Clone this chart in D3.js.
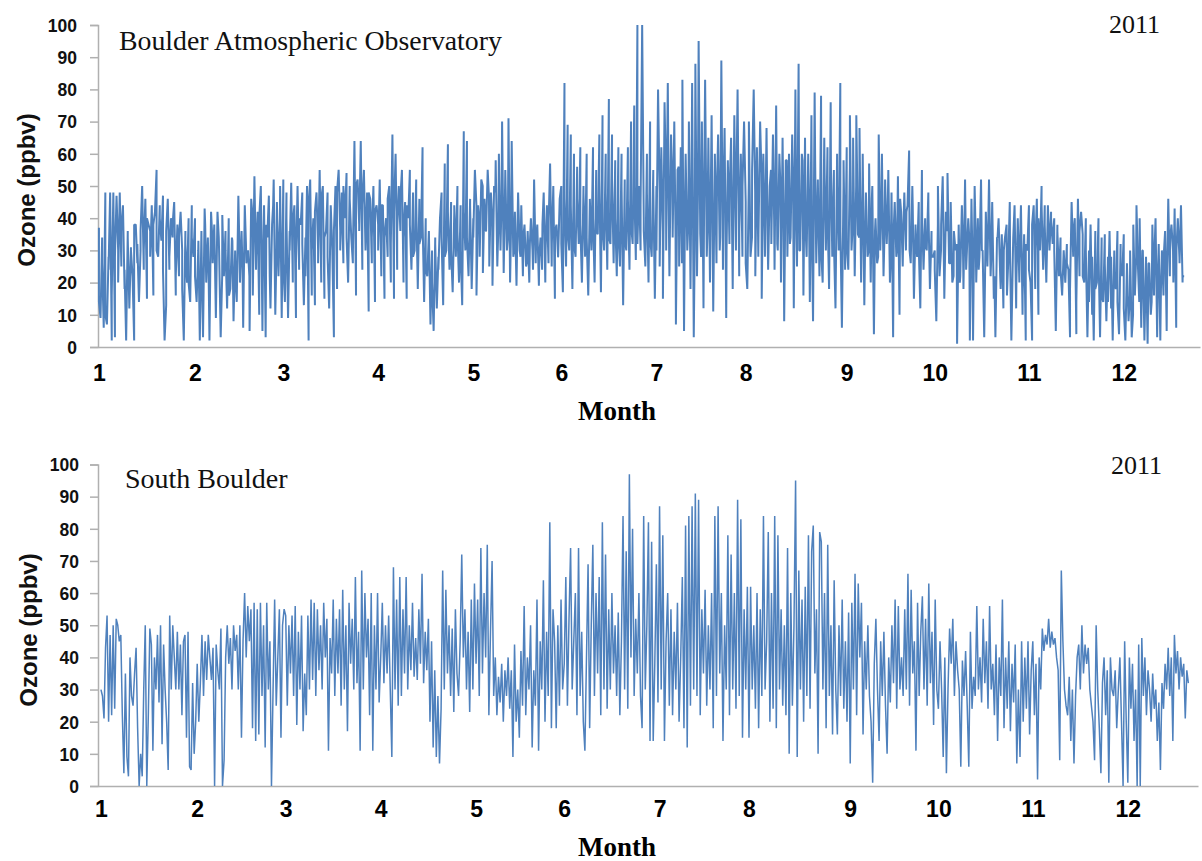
<!DOCTYPE html>
<html>
<head>
<meta charset="utf-8">
<script src="https://cdn.jsdelivr.net/npm/d3@7"></script>
<style>
  body { margin: 0; background: #fff; }
  .ytick text { font-family: "Liberation Sans", sans-serif; font-weight: bold; font-size: 17.5px; fill: #111; }
  .xtick text { font-family: "Liberation Sans", sans-serif; font-weight: bold; font-size: 23px; fill: #000; }
  .axis path, .axis line { stroke: #b0b0b0; stroke-width: 1.5px; }
  .ylab { font-family: "Liberation Sans", sans-serif; font-weight: bold; font-size: 24px; fill: #111; }
  .xlab { font-family: "Liberation Serif", serif; font-weight: bold; font-size: 27px; fill: #000; }
  .note { font-family: "Liberation Serif", serif; font-size: 26px; fill: #111; }
</style>
</head>
<body>
<div id="chart"></div>
<script>
// tick labels
var ozoneTicks = [0, 10, 20, 30, 40, 50, 60, 70, 80, 90, 100];
var monthLabels = [1, 2, 3, 4, 5, 6, 7, 8, 9, 10, 11, 12];
// day of year where each month label sits in the figure, last one is the end of the record
var monthDays = [0.3, 31.3, 59.8, 90.4, 121.1, 149.5, 180.2, 209, 241.6, 270, 300.4, 331, 351];

// Boulder Atmospheric Observatory, ozone
var baoJan = [37,9,34,6,48,7,28,48,2,48,3,47,30,48,25,44,18,2,36,12,31,22,2,38,26,14,30,50,24,46,15,38,36,44,16,42,55,28,44,33,47,2,13,46,24,40,34,45,16,38,22,42,30,2,36,20,40,14,44,28];
var baoFeb = [40,14,30,2,36,3,43,20,34,2,42,26,38,9,42,30,3,41,22,36,12,40,18,34,8,30,14,47,20,36,6,44,26,30,5,46,16,53,24,42,10,50,5,44,3,34,47,12,38,52,10,45,22,50,9];
var baoMar = [52,14,48,9,36,51,20,44,9,50,24,38,48,13,34,50,2,52,16,40,13,48,30,55,20,50,15,36,48,12,44,30,3,50,18,55,36,48,26,40,54,20,50,34,26,64,16,52,38,64,24,55,30,48,11,46,26,50,14,44];
var baoApr = [38,52,22,44,15,40,28,50,20,66,15,60,24,50,36,55,20,45,15,40,55,24,48,30,52,18,46,34,62,14,40,22,36,7,30,5,34,12,28,40,48,13,57,30,63,24,45,17,42,28,50,20,44,13,67,30,64,22,46,18];
var baoMay = [40,55,16,44,28,52,23,46,36,55,25,48,19,50,58,25,60,30,70,23,55,30,71,20,64,28,42,19,48,30,44,22,38,25,36,20,40,30,52,26,38,19,34,24,48,20,44,26,57,25,50,15,38,28,46];
var baoJun = [50,17,82,25,69,30,66,18,60,28,56,32,62,20,50,28,60,16,45,30,62,20,55,35,66,17,72,30,60,24,77,32,66,26,58,22,62,25,60,13,52,30,62,24,70,32,75,27,100,50,30,100,40,25,60,20,70,28,55,15];
var baoJul = [50,80,25,62,15,76,30,82,22,66,34,70,7,55,25,62,83,5,60,30,70,18,82,3,88,22,95,35,70,12,83,28,65,20,72,11,60,26,66,30,89,24,68,9,58,32,65,18,72,30,80,22,60,28,70];
var baoAug = [45,18,70,28,55,80,22,62,35,70,15,60,28,68,24,50,32,66,24,75,30,60,20,65,8,58,28,60,34,66,12,80,25,88,30,60,16,65,28,60,14,72,8,79,26,52,22,78,20,65,30,62,18,76,28,55,12,60,30,82,6,50,24];
var baoSep = [62,24,72,30,65,22,72,35,68,20,60,13,48,28,57,20,50,4,40,26,66,30,60,22,52,32,55,20,48,3,45,28,53,10,42,25,48,30,44,61,26,50,15,38,28,45,12,55,24,40,30,48,18,36,28];
var baoOct = [30,8,50,22,38,53,15,42,54,26,45,20,36,30,1,38,22,44,18,52,28,40,2,46,2,50,20,40,28,52,30,3,42,25,52,22,45,15,3,34,40,22,35,12,34,38,26,45,2,30,44,12,40,20,44,10,35,2,30];
var baoNov = [44,20,2,44,18,46,10,30,50,24,44,20,44,30,42,32,40,5,38,22,34,16,30,20,32,24,3,45,28,40,4,46,22,42,35,20,40,3,30,38,10,2,36,20,40,3,34,14,35,8,28,36,12,2,30,18,36,4,32,22];
var baoDec = [35,2,26,8,30,3,38,16,44,24,40,6,30,2,28,1,26,10,38,16,40,3,32,2,30,16,36,5,46,22,38,30,43,6,40,28,44,20,22];

// extra BAO readings in the dense middle of the trace, merged with the ones above
var baoJanCore = [14,26,10,24,16,28,20,36,24,34,30,38,32,36,30,40,28,38,30,40,24,36,28,38,22,34,18,32,20,34];
var baoFebCore = [22,33,26,38,24,36,18,34,22,30,16,33,20,35,24,32,22,40,28,42,24,38,22,44,30,40];
var baoMarCore = [26,40,30,38,26,40,32,22,44,30,42,26,46,34,28,44,36,48,30,50,34,46,28,50,36,44,30,48,34,42];
var baoAprCore = [30,44,34,46,32,42,36,46,34,44,38,28,45,32,40,24,36,20,32,24,34,28,42,30,44,36,30,42,34,44];
var baoMayCore = [34,44,38,50,36,46,40,48,38,46,42,34,36,30,34,28,35,26,32,24,34,28,38,30,40,32,36,28];
var baoJunCore = [32,46,36,44,32,46,38,48,34,46,40,36,52,38,48,34,52,40,36,50,34,46,38,50,32,44,36,48,34,50];
var baoJulCore = [30,48,36,52,28,50,34,56,26,48,38,54,30,46,28,52,36,44,28,50,34,46,30,50,28,44,36,50];
var baoAugCore = [26,52,34,48,28,54,36,30,55,40,32,50,38,58,32,52,40,30,58,36,48,32,58,42,28,54,38,56,30,50,36,58];
var baoSepCore = [32,56,40,50,34,48,42,30,46,36,28,42,34,40,28,38,30,46,36,42,30,44,34,28,40,32,42,28];
var baoOctCore = [24,38,30,20,36,26,22,32,20,30,24,34,28,36,24,30,20,36,28,22,34,18,30,16,28,34,20,26,16,32];
var baoNovCore = [24,38,30,40,44,38,44,40,30,36,24,30,26,18,34,14,36,22,30,14,28,18,30,16,26,14,28,20,14,26];
var baoDecCore = [12,24,16,10,28,14,30,18,26,14,32,22,18,30,24,34,20,30,26,22];

// South Boulder
var sbJan = [30,28,21,43,53,20,47,22,50,24,52,50,45,47,22,4,35,9,3,40,28,25,35,43,18,0,10,3,30,50,0,22,49,44,11,40,30,47,26,50,13,44,30,20,5,53,30,50,40,30,48,30,44,22,45,47,15,48,6,5,32,10,20];
var sbFeb = [38,20,32,47,28,45,33,47,40,33,43,0,44,36,30,49,0,8,40,50,38,46,30,50,42,47,30,50,15,45,60,40,56,45,55,18,57,14,55,16,57,28,50,12,57,30,45,0,30,58,25,40,55,15,50,55];
var sbMar = [53,25,50,35,53,28,56,19,48,30,53,17,35,22,53,30,58,33,57,28,55,36,50,30,57,40,52,11,46,35,58,28,52,35,55,25,61,30,50,17,57,38,52,30,65,32,48,11,67,30,60,40,52,22,60,11,50,30,60,26];
var sbApr = [40,57,32,50,35,53,30,9,68,30,58,25,65,28,55,35,65,30,50,36,57,34,46,33,55,38,66,32,48,36,52,20,45,12,36,9,28,7,24,67,30,61,35,50,28,49,23,55,35,28,45,72,40,55,30,48,23,58,30,63];
var sbMay = [38,58,28,74,35,60,40,75,22,48,70,28,40,22,34,26,38,20,36,28,40,24,36,9,44,20,30,15,42,25,56,22,40,30,50,12,36,25,58,11,45,30,64,20,48,28,82,18,55,45,18,50,25,58,30];
var sbJun = [38,65,25,52,74,30,45,60,22,74,28,48,20,11,40,69,18,50,75,28,60,35,65,22,82,30,72,24,55,30,60,35,50,28,54,22,45,84,30,73,24,97,40,80,28,52,35,60,28,18,84,30,50,82,14,76,14,38,69,26];
var sbJul = [87,30,78,14,45,60,25,55,22,48,30,57,20,40,65,18,81,12,84,25,87,30,91,28,89,22,55,35,61,25,50,30,60,18,84,28,87,35,60,14,50,30,78,22,72,30,60,24,89,28,83,15,55,30,62];
var sbAug = [15,62,30,50,24,60,18,55,28,84,30,45,79,20,60,24,84,18,78,30,55,25,50,22,74,10,60,25,50,95,9,67,30,58,20,62,28,78,24,73,81,35,55,10,79,76,30,60,18,75,28,50,16,64,30,16,50,28,58,24,45,20,54];
var sbSep = [7,57,30,66,22,63,40,57,16,45,30,50,28,20,1,38,52,30,14,45,28,48,25,10,40,26,50,32,58,24,56,30,40,28,55,30,66,25,61,35,45,11,57,28,48,59,30,52,25,63,32,48,19,58,30];
var sbOct = [24,45,30,9,40,4,30,49,38,52,28,45,36,30,6,39,28,42,25,6,48,24,34,28,56,30,40,26,52,32,45,24,56,30,38,22,44,14,40,28,58,18,40,24,45,17,38,26,44,7,30,9,45,20,40,24,45,16,36];
var sbNov = [45,22,38,2,40,30,49,42,47,44,52,43,48,44,46,40,36,8,67,45,30,25,22,34,14,30,7,28,40,44,30,50,35,44,38,43,30,25,20,8,50,30,18,4,32,40,22,36,1,40,30,28,36,18,30,40,20,0,45,20];
var sbDec = [1,40,24,38,14,30,0,44,0,46,28,40,22,36,30,20,35,24,30,14,26,5,32,24,38,30,43,28,40,14,47,35,42,30,40,34,38,21,36,32];

var baoMonths = [baoJan, baoFeb, baoMar, baoApr, baoMay, baoJun, baoJul, baoAug, baoSep, baoOct, baoNov, baoDec];
var baoCore = [baoJanCore, baoFebCore, baoMarCore, baoAprCore, baoMayCore, baoJunCore, baoJulCore, baoAugCore, baoSepCore, baoOctCore, baoNovCore, baoDecCore];
var sbMonths = [sbJan, sbFeb, sbMar, sbApr, sbMay, sbJun, sbJul, sbAug, sbSep, sbOct, sbNov, sbDec];

// spread each month's readings evenly between its two month marks
function toPoints(months) {
  var pts = [];
  months.forEach(function(vals, m) {
    var start = monthDays[m], end = monthDays[m + 1];
    vals.forEach(function(v, i) {
      pts.push({day: start + (end - start) * i / vals.length, ozone: v});
    });
  });
  return pts;
}

var svg = d3.select("#chart").append("svg")
    .attr("width", 1202)
    .attr("height", 861);

function panel(o) {
  var x = d3.scaleLinear().domain(o.xDomain).range([98, o.right]);
  var y = d3.scaleLinear().domain([0, 100]).range([o.bottom, o.top]);

  var line = d3.line()
      .x(function(d) { return x(d.day); })
      .y(function(d) { return y(d.ozone); });

  // y axis
  var yAxis = svg.append("g")
      .attr("class", "axis ytick")
      .attr("transform", "translate(98,0)")
      .call(d3.axisLeft(y).tickValues(ozoneTicks).tickSizeOuter(0).tickSize(8).tickPadding(o.yPad));
  yAxis.selectAll("text").attr("dy", "0.36em");

  // x axis, month labels have no tick marks
  svg.append("g")
      .attr("class", "axis xtick")
      .attr("transform", "translate(0," + o.bottom + ")")
      .call(d3.axisBottom(x)
        .tickValues(monthDays.slice(0, 12))
        .tickFormat(function(d, i) { return monthLabels[i]; })
        .tickSize(0).tickSizeOuter(0).tickPadding(o.xPad));

  // merge the extra readings in by date
  var pts = toPoints(o.months);
  if (o.core) {
    pts = pts.concat(toPoints(o.core)).sort(function(a, b) { return a.day - b.day; });
  }

  svg.append("path")
      .datum(pts)
      .attr("fill", "none")
      .attr("stroke", "#4f81bd")
      .attr("stroke-width", o.stroke)
      .attr("stroke-linejoin", "bevel")
      .attr("d", line);

  svg.append("text")
      .attr("class", "ylab")
      .attr("transform", "translate(" + o.ylabX + "," + o.ylabY + ") rotate(-90)")
      .attr("text-anchor", "middle")
      .text("Ozone (ppbv)");

  svg.append("text")
      .attr("class", "xlab")
      .attr("x", 617)
      .attr("y", o.xlabY)
      .attr("text-anchor", "middle")
      .text("Month");

  svg.append("text")
      .attr("class", "note")
      .attr("x", o.nameX)
      .attr("y", o.nameY)
      .style("font-size", o.nameSize + "px")
      .text(o.name);

  svg.append("text")
      .attr("class", "note")
      .attr("x", o.yearX)
      .attr("y", o.yearY)
      .text("2011");
}

panel({
  months: baoMonths, core: baoCore,
  xDomain: [0, 355.6], right: 1200, top: 25, bottom: 347, stroke: 2,
  yPad: 13, xPad: 18, ylabX: 35, ylabY: 190, xlabY: 420,
  name: "Boulder Atmospheric Observatory", nameX: 119, nameY: 50, nameSize: 27.8,
  yearX: 1109, yearY: 33
});

panel({
  months: sbMonths, xDomain: [-0.65, 353.6], right: 1198, top: 464.5, bottom: 786, stroke: 1.5,
  yPad: 11, xPad: 15, ylabX: 37, ylabY: 630, xlabY: 856,
  name: "South Boulder", nameX: 125, nameY: 488, nameSize: 28,
  yearX: 1111, yearY: 474
});
</script>
</body>
</html>
